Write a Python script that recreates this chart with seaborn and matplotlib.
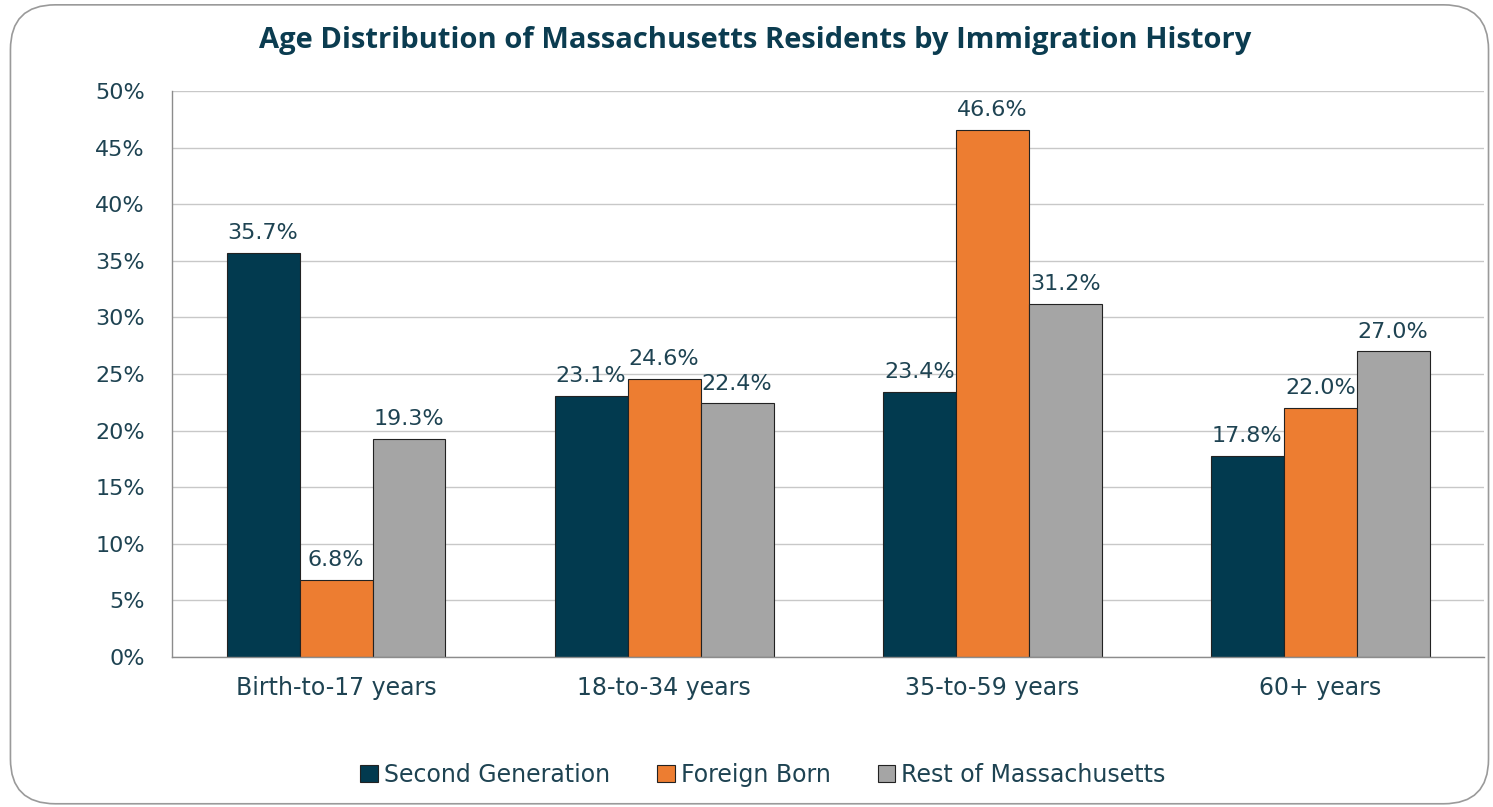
import pandas as pd
import seaborn as sns
import matplotlib.pyplot as plt
from matplotlib.patches import FancyBboxPatch
from matplotlib.ticker import PercentFormatter

# data
AGE_GROUPS = ["Birth-to-17 years", "18-to-34 years", "35-to-59 years", "60+ years"]
SERIES = ["Second Generation", "Foreign Born", "Rest of Massachusetts"]
SECOND_GEN = [35.7, 23.1, 23.4, 17.8]
FOREIGN_BORN = [6.8, 24.6, 46.6, 22.0]
REST_OF_MA = [19.3, 22.4, 31.2, 27.0]

COLORS = ["#023A4F", "#ED7D31", "#A5A5A5"]
TEXT = "#1E4352"

df = pd.DataFrame({
    "age": AGE_GROUPS * 3,
    "series": [s for s in SERIES for _ in AGE_GROUPS],
    "pct": SECOND_GEN + FOREIGN_BORN + REST_OF_MA,
})

sns.set_theme(style="white")
plt.rcParams["font.family"] = ["DejaVu Sans"]

fig = plt.figure(figsize=(14.93, 8.07), dpi=100)
ax = fig.add_axes([0.1152, 0.186, 0.879, 0.701])

sns.barplot(
    data=df, x="age", y="pct", hue="series",
    hue_order=SERIES, order=AGE_GROUPS,
    palette=COLORS, width=0.667, ax=ax,
    edgecolor="#222222", linewidth=0.8, saturation=1,
)

for cont in ax.containers:
    ax.bar_label(cont, labels=[f"{v:.1f}%" for v in cont.datavalues],
                 padding=7, fontsize=16, color=TEXT)

ax.set_ylim(0, 50)
ax.set_yticks(range(0, 51, 5))
ax.yaxis.set_major_formatter(PercentFormatter(decimals=0))
ax.set_xlim(-0.5, 3.5)
ax.grid(axis="y", color="#C8C8C8", linewidth=1)
ax.set_axisbelow(True)
for side in ["top", "right"]:
    ax.spines[side].set_visible(False)
for side in ["left", "bottom"]:
    ax.spines[side].set_color("#8C8C8C")
    ax.spines[side].set_linewidth(1)
ax.tick_params(axis="y", labelsize=16, labelcolor=TEXT, pad=19.5, length=0)
ax.tick_params(axis="x", labelsize=17, labelcolor=TEXT, pad=14, length=0)
ax.set_xlabel("")
ax.set_ylabel("")

handles, labels = ax.get_legend_handles_labels()
ax.get_legend().remove()
fig.legend(
    handles, labels, loc="center", bbox_to_anchor=(0.511, 0.04), ncol=3,
    frameon=False, fontsize=17, labelcolor=TEXT,
    handlelength=0.75, handleheight=0.75, handletextpad=0.25, columnspacing=2.0,
)

fig.text(0.506, 0.95, "Age Distribution of Massachusetts Residents by Immigration History",
         ha="center", va="center", fontsize=21, fontweight="bold",
         color="#0B3C50", family="Open Sans")

# rounded frame round the whole chart
frame = FancyBboxPatch((0.007, 0.004), 0.99, 0.99, boxstyle="round,pad=0,rounding_size=0.03",
                       transform=fig.transFigure, fill=False, edgecolor="#9A9A9A",
                       linewidth=1.2, mutation_aspect=1.85)
fig.patches.append(frame)

fig.savefig("out.png", dpi=100)
